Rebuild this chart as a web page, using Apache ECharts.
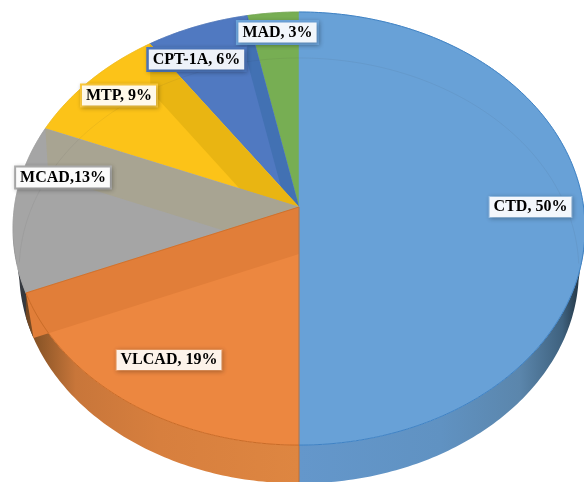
<!DOCTYPE html>
<html><head><meta charset="utf-8">
<style>html,body{margin:0;padding:0;background:#fff}#c{width:584px;height:482px}</style>
<script src="https://cdn.jsdelivr.net/npm/echarts@6/dist/echarts.min.js"></script>
</head><body><div id="c"></div>
<script>
// Data: slices counter-clockwise from 12 o'clock, CTD last (it is painted last)
const names  = ['MAD','CPT-1A','MTP','MCAD','VLCAD','CTD'];
const values = [3.2, 6.4, 9.2, 12.5, 18.7, 50];
const labels = ['MAD, 3%','CPT-1A, 6%','MTP, 9%','MCAD,13%','VLCAD, 19%','CTD, 50%'];

// Styles
const faceColors = ['#77ae53','#5079c1','#fcc318','#a5a5a5','#ec8740','#68a1d7'];
const bandColors = [null,'#4271b3','#e9b512','#a8a492','#e17e39',null];
const rimColors  = ['#6e9f4d','#4a70b2','#eab616','#999999','#c96c28','#3f82c4'];
const labelAt    = [[277.5,32.5],[196.5,59.5],[119,95.5],[63,177.5],[169,360],[530.5,207]];
const labelFill  = ['#f1f6fb','#eef2f9','#fff9e9','#fbfbfb','#fdf3ea','#f3f7fc'];
const labelEdge  = ['#6ca4da','#4c76bc','#fcc93a','#adadad','#ef9a5e','#9cc3e8'];
const labelLine  = [2.5,2.5,2,2,1,1];

// Perspective of the tilted disc: top face and bottom face
const TOP = {cx:299, cy:207, A:284.6, B:214.4, k:0.0995};
const BOT = {cx:299, cy:254, A:279,   B:211.4, k:0.0785};
const wallLean = 0.1;
const total = values.reduce((a,b)=>a+b,0);
const TAU = Math.PI*2;
function project(d, th){
  const u=Math.sin(th), v=Math.cos(th), w=1+d.k*v;
  return [d.cx+d.A*u/w, d.cy-d.B*v/w];
}
function rim(d, a, b){
  const n=Math.max(2,Math.ceil(Math.abs(b-a)/0.015)), p=[];
  for(let i=0;i<=n;i++) p.push(project(d,a+(b-a)*i/n));
  return p;
}
const starts=[]; let acc=0;
values.forEach(v=>{starts.push(acc); acc+=v;});
const angOf = f => -f/total*TAU;   // counter-clockwise from top

const sideOrange={type:'linear',global:true,x:20,y:0,x2:299,y2:0,colorStops:[
  {offset:0,color:'#5b3a1e'},{offset:0.06,color:'#8a5527'},{offset:0.2,color:'#c8763a'},{offset:0.5,color:'#d77f3e'},{offset:1,color:'#de8641'}]};
const sideBlue={type:'linear',global:true,x:299,y:0,x2:582,y2:0,colorStops:[
  {offset:0,color:'#6497cb'},{offset:0.5,color:'#6092c2'},{offset:0.78,color:'#5b86ac'},{offset:0.93,color:'#3f627f'},{offset:1,color:'#1f2f3c'}]};
const sideDark='#35393f';

function renderSlice(params, api){
  const i=params.dataIndex, val=api.value(0);
  const a0=angOf(starts[i]), a1=angOf(starts[i]+val);
  const kids=[];
  // outer wall for the part of the slice that faces the viewer
  const lo=-Math.PI*1.46, hi=-Math.PI*0.54;
  const from=Math.min(a0,hi), to=Math.max(a1,lo);
  if(from>to){
    const lean=i===4?wallLean:0;
    const pts=rim(TOP,from,to).concat(rim(BOT,to,from+lean));
    kids.push({type:'polygon',shape:{points:pts},
      style:{fill:i===5?sideBlue:(i===4?sideOrange:sideDark)}});
  }
  // top face
  const face=[[TOP.cx,TOP.cy]].concat(rim(TOP,a0,a1));
  kids.push({type:'polygon',shape:{points:face},style:{fill:faceColors[i],stroke:faceColors[i],lineWidth:0.5}});
  // cut wall of the previous slice, seen through this face
  if(bandColors[i]){
    const band=[[TOP.cx,TOP.cy],project(TOP,a0),project(BOT,a0),[BOT.cx,BOT.cy]];
    kids.push({type:'polygon',shape:{points:band},style:{fill:bandColors[i]}});
  }
  return {type:'group',children:kids};
}
function renderOverlay(params, api){
  const i=params.dataIndex, val=api.value(0);
  const a0=angOf(starts[i]), a1=angOf(starts[i]+val);
  const kids=[];
  kids.push({type:'polyline',shape:{points:rim(TOP,a0,a1)},
    style:{fill:null,stroke:rimColors[i],lineWidth:(i>=4)?1:0.6}});
  // faint far edge of the bottom disc, seen through the top face
  const pts=rim(BOT,a0,a1).filter((p,j,all)=>Math.cos(a0+(a1-a0)*j/(all.length-1))>-0.05);
  if(pts.length>1) kids.push({type:'polyline',shape:{points:pts},
    style:{fill:null,stroke:'rgba(60,60,60,0.07)',lineWidth:1}});
  // darker edges around the orange slice
  if(i===4){
    kids.push({type:'polyline',shape:{points:[project(TOP,a0),[TOP.cx,TOP.cy]]},
      style:{fill:null,stroke:rimColors[i],lineWidth:0.8}});
    kids.push({type:'polyline',shape:{points:[[TOP.cx,TOP.cy],project(TOP,a1),project(BOT,a1)]},
      style:{fill:null,stroke:'#bf7038',lineWidth:1}});
  }
  return {type:'group',children:kids};
}
function renderLabel(params){
  const i=params.dataIndex, p=labelAt[i];
  return {type:'text',style:{
    text:labels[i],x:p[0],y:p[1],align:'center',verticalAlign:'middle',
    font:'bold 16px "Liberation Serif"',fill:'#000',
    backgroundColor:labelFill[i],borderColor:labelEdge[i],borderWidth:labelLine[i],
    padding:[2,4,2,4],shadowBlur:4,shadowColor:'rgba(0,0,0,0.22)',shadowOffsetX:1,shadowOffsetY:1
  }};
}
const data=values.map((v,i)=>({name:names[i],value:[v]}));
const chart=echarts.init(document.getElementById('c'),null,{renderer:'canvas'});
chart.setOption({
  animation:false,backgroundColor:'#fff',
  series:[
    {type:'custom',coordinateSystem:'none',renderItem:renderSlice,data:data,z:1,silent:true},
    {type:'custom',coordinateSystem:'none',renderItem:renderOverlay,data:data,z:2,silent:true},
    {type:'custom',coordinateSystem:'none',renderItem:renderLabel,data:data,z:3,silent:true}
  ]
});
</script></body></html>
